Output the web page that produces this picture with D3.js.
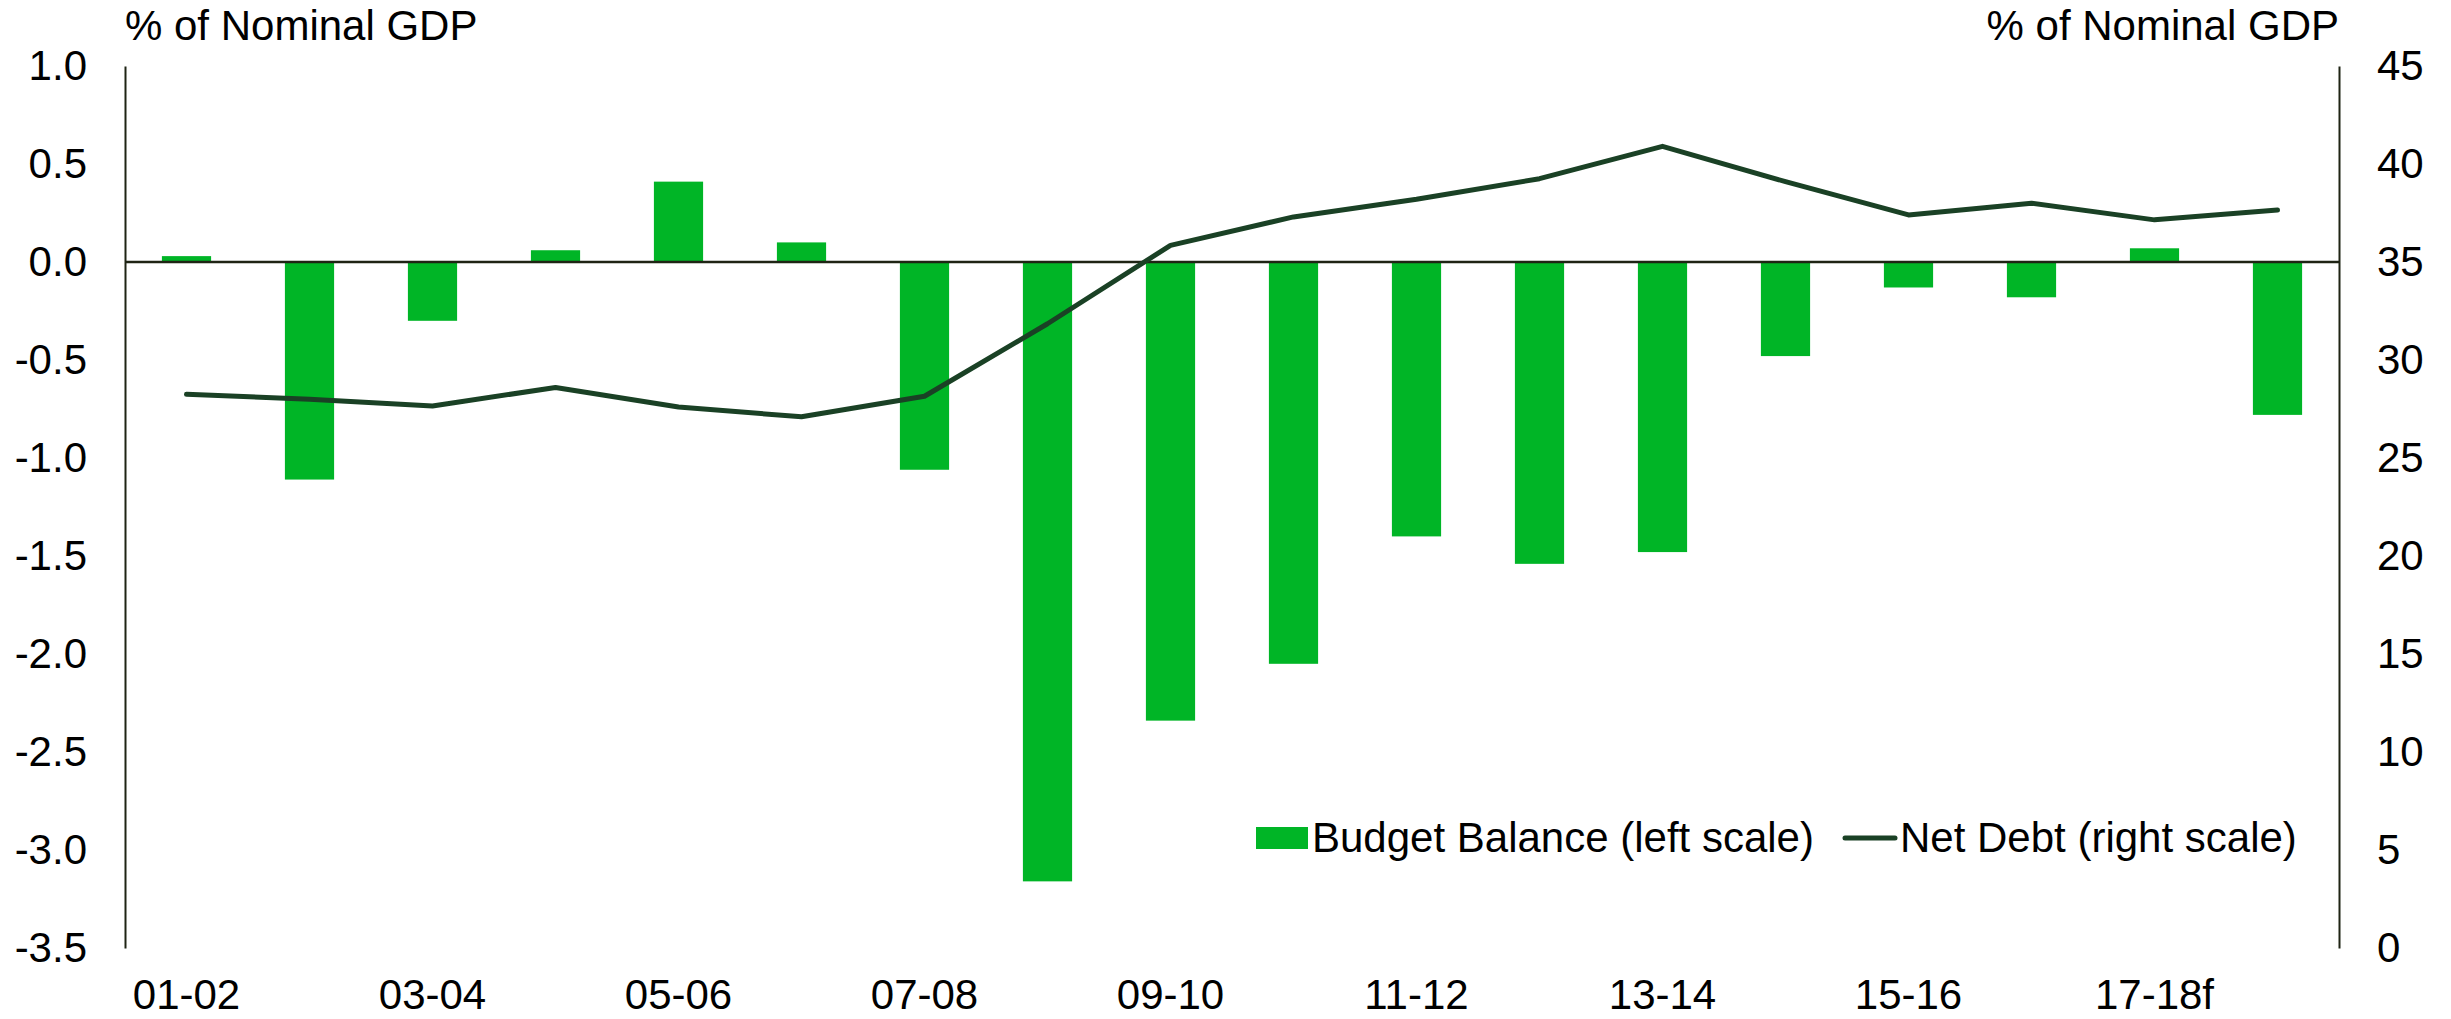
<!DOCTYPE html>
<html>
<head>
<meta charset="utf-8">
<script src="https://d3js.org/d3.v7.min.js"></script>
<style>
  body { margin: 0; background: #fff; }
  svg text { font-family: "Liberation Sans", Arial, sans-serif; font-size: 42px; fill: #000; }
</style>
</head>
<body>
<script>
/******************************************************************************/
/* DATA                                                                       */
/******************************************************************************/
var years = ['01-02', '02-03', '03-04', '04-05', '05-06', '06-07', '07-08', '08-09', '09-10',
             '10-11', '11-12', '12-13', '13-14', '14-15', '15-16', '16-17', '17-18f', '18-19f'];
var budgetBalance = [0.03, -1.11, -0.30, 0.06, 0.41, 0.10, -1.06, -3.16, -2.34,
                     -2.05, -1.40, -1.54, -1.48, -0.48, -0.13, -0.18, 0.07, -0.78];
var netDebt = [28.25, 28.0, 27.65, 28.6, 27.6, 27.1, 28.15, 31.85, 35.85,
               37.3, 38.2, 39.25, 40.9, 39.1, 37.4, 38.0, 37.15, 37.65];
var leftTicks = [1.0, 0.5, 0.0, -0.5, -1.0, -1.5, -2.0, -2.5, -3.0, -3.5];
var rightTicks = [0, 5, 10, 15, 20, 25, 30, 35, 40, 45];
var xLabels = ['01-02', '03-04', '05-06', '07-08', '09-10', '11-12', '13-14', '15-16', '17-18f'];

/******************************************************************************/
/* GLOBAL                                                                     */
/******************************************************************************/
var width  = 2451;
var height = 1019;
var plot = {left: 125, right: 2339, top: 66, bottom: 948};
var barColor  = '#00b526';
var lineColor = '#1a4125';
var axisColor = '#1f2414';

var x = d3.scaleBand()
  .domain(years)
  .range([plot.left, plot.right])
  .paddingInner(0.6)
  .paddingOuter(0.3);

var yLeft = d3.scaleLinear().domain([-3.5, 1.0]).range([plot.bottom, plot.top]);
var yRight = d3.scaleLinear().domain([0, 45]).range([plot.bottom, plot.top]);

// plain hyphen for negatives, like the original
var fmtLeft = function(d) { return d.toFixed(1).replace('\u2212', '-'); };

/******************************************************************************/
/* DRAW                                                                       */
/******************************************************************************/
var svg = d3.select('body')
  .append('svg')
  .attr('width', width)
  .attr('height', height);

// bars
svg.append('g')
  .selectAll('rect')
  .data(years)
  .enter()
  .append('rect')
  .attr('x', function(d) { return x(d); })
  .attr('width', x.bandwidth())
  .attr('y', function(d, i) { return yLeft(Math.max(0, budgetBalance[i])); })
  .attr('height', function(d, i) { return Math.abs(yLeft(budgetBalance[i]) - yLeft(0)); })
  .attr('fill', barColor);

// zero line
svg.append('line')
  .attr('x1', plot.left).attr('x2', plot.right)
  .attr('y1', yLeft(0)).attr('y2', yLeft(0))
  .attr('stroke', axisColor)
  .attr('stroke-width', 2.5);

// left axis
var leftAxis = svg.append('g')
  .attr('transform', 'translate(' + plot.left + ',0)')
  .call(d3.axisLeft(yLeft).tickValues(leftTicks).tickSize(0).tickPadding(38)
    .tickFormat(fmtLeft));
leftAxis.select('.domain').attr('stroke', axisColor).attr('stroke-width', 2);
leftAxis.selectAll('text').attr('font-size', null).attr('font-family', null);

// right axis
var rightAxis = svg.append('g')
  .attr('transform', 'translate(' + plot.right + ',0)')
  .call(d3.axisRight(yRight).tickValues(rightTicks).tickSize(0).tickPadding(38));
rightAxis.select('.domain').attr('stroke', axisColor).attr('stroke-width', 2);
rightAxis.selectAll('text').attr('font-size', null).attr('font-family', null);

// x labels
svg.append('g')
  .selectAll('text')
  .data(xLabels)
  .enter()
  .append('text')
  .attr('x', function(d) { return x(d) + x.bandwidth() / 2; })
  .attr('y', 1009)
  .attr('text-anchor', 'middle')
  .text(function(d) { return d; });

// net debt line
var line = d3.line()
  .x(function(d, i) { return x(years[i]) + x.bandwidth() / 2; })
  .y(function(d) { return yRight(d); });

svg.append('path')
  .datum(netDebt)
  .attr('d', line)
  .attr('fill', 'none')
  .attr('stroke', lineColor)
  .attr('stroke-width', 5)
  .attr('stroke-linejoin', 'round')
  .attr('stroke-linecap', 'round');

// titles
svg.append('text')
  .attr('x', plot.left).attr('y', 40)
  .text('% of Nominal GDP');
svg.append('text')
  .attr('x', plot.right).attr('y', 40)
  .attr('text-anchor', 'end')
  .text('% of Nominal GDP');

// legend
var legend = svg.append('g');
legend.append('rect')
  .attr('x', 1256).attr('y', 827)
  .attr('width', 52).attr('height', 22)
  .attr('fill', barColor);
legend.append('text')
  .attr('x', 1312).attr('y', 852)
  .text('Budget Balance (left scale)');
legend.append('line')
  .attr('x1', 1845).attr('x2', 1895)
  .attr('y1', 838).attr('y2', 838)
  .attr('stroke', lineColor)
  .attr('stroke-width', 5)
  .attr('stroke-linecap', 'round');
legend.append('text')
  .attr('x', 1900).attr('y', 852)
  .text('Net Debt (right scale)');
</script>
</body>
</html>
